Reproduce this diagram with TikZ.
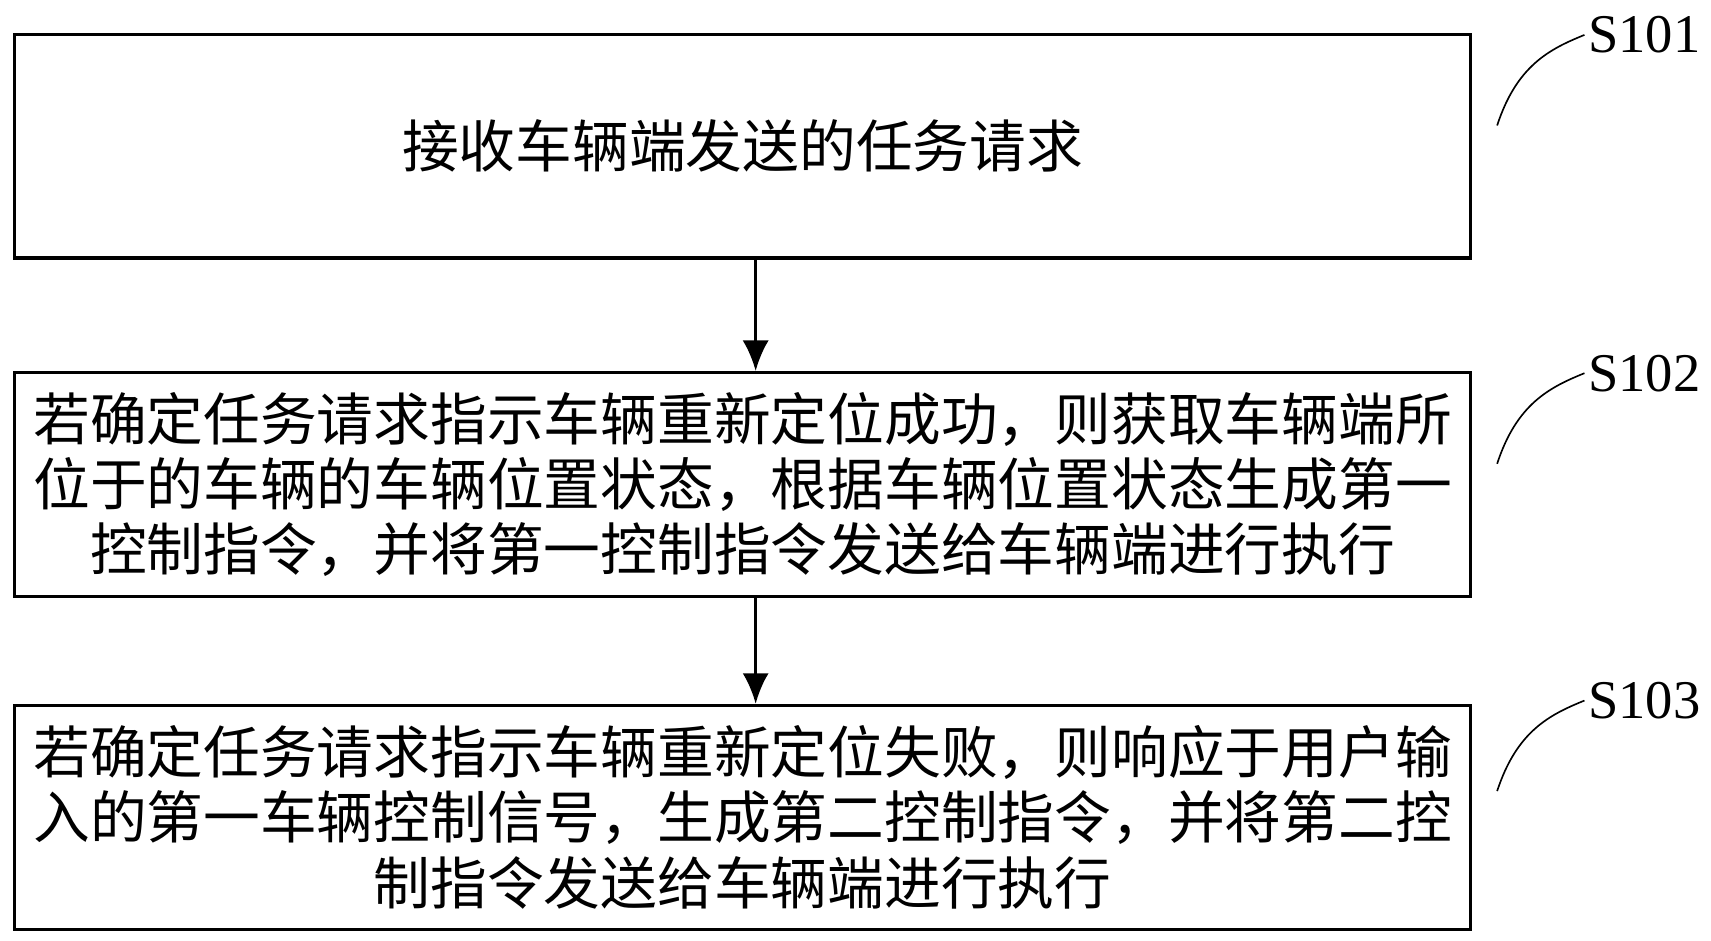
\documentclass[tikz,border=0pt]{standalone}
\usepackage{fontspec}
\usetikzlibrary{arrows.meta}
\newfontfamily\cjk{Noto Sans CJK SC}
\setmainfont{Liberation Serif}
\begin{document}
\begin{tikzpicture}[x=1pt,y=-1pt,
 box/.style={draw,line width=3pt,minimum width=1334pt,minimum height=205pt,anchor=north west,inner sep=0pt},
 txt/.style={font=\cjk\fontsize{52}{60}\selectfont,align=center},
 lab/.style={font=\fontsize{50}{50}\selectfont,anchor=west},
 arr/.style={line width=3pt,-{Latex[length=28pt,width=24pt]}},
 cur/.style={line width=1.5pt}]
\useasboundingbox (0,0) rectangle (1568,862);
\node[box] (b1) at (12,30) {};
\node[box] (b2) at (12,340) {};
\node[box] (b3) at (12,645) {};
\node[txt] (t1) at (b1.center) {接收车辆端发送的任务请求};
\node[txt] (t2) at (b2.center) {若确定任务请求指示车辆重新定位成功，则获取车辆端所\\位于的车辆的车辆位置状态，根据车辆位置状态生成第一\\控制指令，并将第一控制指令发送给车辆端进行执行};
\node[txt] (t3) at (b3.center) {若确定任务请求指示车辆重新定位失败，则响应于用户输\\入的第一车辆控制信号，生成第二控制指令，并将第二控\\制指令发送给车辆端进行执行};
\draw[arr] ([xshift=12pt]b1.south) -- ([xshift=12pt]b2.north);
\draw[arr] ([xshift=12pt]b2.south) -- ([xshift=12pt]b3.north);
\node[lab] (l1) at (1452,32) {S101};
\node[lab] (l2) at (1452,342) {S102};
\node[lab] (l3) at (1452,642) {S103};
\draw[cur] (1372,115) .. controls (1390,60) and (1420,45) .. (l1.west);
\draw[cur] (1372,425) .. controls (1390,370) and (1420,355) .. (l2.west);
\draw[cur] (1372,725) .. controls (1390,670) and (1420,655) .. (l3.west);
\end{tikzpicture}
\end{document}
